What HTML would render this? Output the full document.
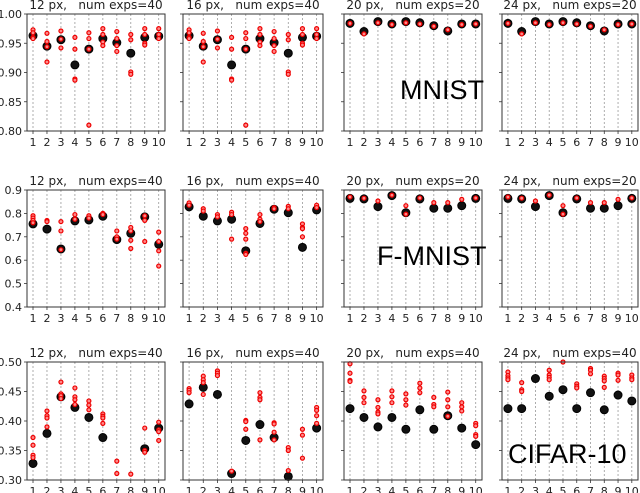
<!DOCTYPE html>
<html><head><meta charset="utf-8">
<style>
html,body{margin:0;padding:0;background:#fff;}
svg{display:block;font-family:"DejaVu Sans","Liberation Sans",sans-serif;}
</style></head>
<body>
<svg id="chart" width="640" height="493" viewBox="0 0 640 493" xmlns="http://www.w3.org/2000/svg"></svg>
<script>
const categories=[1,2,3,4,5,6,7,8,9,10];
const rowTicks=[[0.80,0.85,0.90,0.95,1.00],[0.4,0.5,0.6,0.7,0.8,0.9],[0.30,0.35,0.40,0.45,0.50]];
const rowTickLabels=[["0.80","0.85","0.90","0.95","1.00"],["0.4","0.5","0.6","0.7","0.8","0.9"],["0.30","0.35","0.40","0.45","0.50"]];
const rowRanges=[[0.80,1.00],[0.4,0.9],[0.30,0.50]];
const titles=[["12 px,\u00a0\u00a0 num exps=40","16 px,\u00a0\u00a0 num exps=40","20 px,\u00a0\u00a0 num exps=20","24 px,\u00a0\u00a0 num exps=20"],
["12 px,\u00a0\u00a0 num exps=40","16 px,\u00a0\u00a0 num exps=40","20 px,\u00a0\u00a0 num exps=20","24 px,\u00a0\u00a0 num exps=20"],
["12 px,\u00a0\u00a0 num exps=40","16 px,\u00a0\u00a0 num exps=40","20 px,\u00a0\u00a0 num exps=40","24 px,\u00a0\u00a0 num exps=40"]];
const datasetNames=["MNIST","F-MNIST","CIFAR-10"];

const mnistBlackA=[0.963,0.945,0.956,0.913,0.940,0.958,0.951,0.933,0.960,0.962];
const mnistRedA=[[0.973,0.968,0.960,0.958],[0.967,0.953,0.944,0.918],[0.971,0.957,0.942],[0.960,0.940,0.889,0.887],[0.968,0.958,0.940,0.810],[0.975,0.965,0.952,0.946],[0.970,0.958,0.946,0.936],[0.965,0.956,0.901,0.897],[0.975,0.965,0.950,0.947],[0.975,0.965,0.958]];
const mnistBlackB=[0.984,0.970,0.987,0.983,0.987,0.985,0.980,0.971,0.983,0.983];
const mnistRedB=[[0.984],[0.966],[0.985],[0.982],[0.985],[0.983],[0.979],[0.973],[0.982],[0.983]];

const fmBlack12=[0.755,0.733,0.648,0.768,0.772,0.788,0.688,0.715,0.785,0.668];
const fmRed12=[[0.79,0.78,0.77,0.76],[0.77,0.765],[0.765,0.725,0.645],[0.795,0.775],[0.79,0.78],[0.80,0.795],[0.725,0.70,0.69],[0.74,0.725,0.685,0.65],[0.79,0.77,0.68],[0.72,0.68,0.64,0.575]];
const fmBlack16=[0.828,0.788,0.768,0.775,0.640,0.757,0.818,0.803,0.655,0.815];
const fmRed16=[[0.845,0.835],[0.82,0.81],[0.795,0.785],[0.805,0.795,0.69],[0.735,0.715,0.69,0.63,0.625],[0.795,0.775,0.765],[0.825,0.82],[0.83,0.82],[0.755,0.74,0.735,0.70],[0.835,0.825]];
const fmBlackB=[0.864,0.862,0.829,0.876,0.803,0.862,0.822,0.822,0.833,0.864];
const fmRedB=[[0.87],[0.865],[0.853],[0.878],[0.833,0.797],[0.866],[0.846],[0.846],[0.86],[0.866]];

const cfBlack12=[0.328,0.379,0.441,0.423,0.406,0.372,null,null,0.353,0.388];
const cfRed12=[[0.372,0.359,0.342,0.338],[0.417,0.409,0.405,0.390],[0.466,0.446,0.443,0.438],[0.456,0.441,0.436,0.428],[0.434,0.427,0.419],[0.412,0.408,0.405,0.396],[0.332,0.311],[0.310],[0.388,0.350,0.347],[0.398,0.385,0.382,0.367]];
const cfBlack16=[0.429,0.457,0.445,0.311,0.367,0.394,0.372,0.306,null,0.388];
const cfRed16=[[0.455,0.452,0.448],[0.476,0.470,0.465,0.445],[0.485,0.481,0.477],[0.315],[0.401,0.399,0.386],[0.448,0.440,0.436,0.368],[0.397,0.395,0.381,0.368],[0.355,0.350,0.316],[0.386,0.376,0.337],[0.423,0.418,0.409,0.396]];
const cfBlack20=[0.421,0.406,0.390,0.406,0.386,0.419,0.386,0.409,0.388,0.360];
const cfRed20=[[0.497,0.481,0.469,0.467],[0.451,0.440,0.431],[0.436,0.423,0.415,0.412],[0.451,0.441,0.431],[0.446,0.436,0.427],[0.464,0.456,0.448],[0.440,0.428,0.424],[0.449,0.436,0.424,0.408],[0.431,0.424,0.417],[0.396,0.392,0.377,0.374]];
const cfBlack24=[0.421,0.421,0.472,0.442,0.453,0.421,0.448,0.419,0.444,0.434];
const cfRed24=[[0.483,0.477,0.473,0.470],[0.465,0.453,0.450],[],[0.486,0.478,0.474,0.470],[0.500],[0.463,0.459,0.456],[0.489,0.486,0.480],[0.476,0.472,0.468,0.457],[0.481,0.478,0.469],[0.478,0.473,0.470]];

const panelBlack=[[mnistBlackA,mnistBlackA,mnistBlackB,mnistBlackB],[fmBlack12,fmBlack16,fmBlackB,fmBlackB],[cfBlack12,cfBlack16,cfBlack20,cfBlack24]];
const panelRed=[[mnistRedA,mnistRedA,mnistRedB,mnistRedB],[fmRed12,fmRed16,fmRedB,fmRedB],[cfRed12,cfRed16,cfRed20,cfRed24]];

const NS="http://www.w3.org/2000/svg";
const svg=document.getElementById('chart');
const colX=[[27,165],[183,323],[344,482],[502,638]];
const rowY=[[14,131],[190,307],[362,480]];
const xMin=0.57,xMax=10.45;
function mk(tag,attrs,parent){const e=document.createElementNS(NS,tag);for(const k in attrs)e.setAttribute(k,attrs[k]);(parent||svg).appendChild(e);return e;}
const rowNames=['mnist','fmnist','cifar'];
const pxNames=['12px','16px','20px','24px'];
for(let r=0;r<3;r++){for(let c=0;c<4;c++){
  const [x0,x1]=colX[c],[y0,y1]=rowY[r];
  const xs=v=>x0+(v-xMin)/(xMax-xMin)*(x1-x0);
  const ys=v=>y1-(v-rowRanges[r][0])/(rowRanges[r][1]-rowRanges[r][0])*(y1-y0);
  const g=mk('g',{});
  
  
  categories.forEach(k=>{const l=mk('line',{x1:xs(k),x2:xs(k),y1:y0,y2:y1,stroke:'#999','stroke-width':0.8,'stroke-dasharray':'2,2'},g);
    
    const t=mk('text',{x:xs(k),y:y1+15,'text-anchor':'middle','font-size':11,fill:'#222'},g);t.textContent=k;
    
    mk('line',{x1:xs(k),x2:xs(k),y1:y1,y2:y1+3,stroke:'#333','stroke-width':0.8},g);
  });
  rowTicks[r].forEach((tv,i)=>{mk('line',{x1:x0-3,x2:x0,y1:ys(tv),y2:ys(tv),stroke:'#333','stroke-width':0.8},g);
    if(c===0){const t=mk('text',{x:x0-5,y:ys(tv)+4,'text-anchor':'end','font-size':11,fill:'#222'},g);t.textContent=rowTickLabels[r][i];
    }});
  panelBlack[r][c].forEach((v,i)=>{if(v===null)return;const p=mk('circle',{cx:xs(categories[i]),cy:ys(v),r:4,fill:'#111',stroke:'#000','stroke-width':1},g);
    });
  const reds=panelRed[r][c];
  reds.forEach((arr,i)=>arr.forEach(v=>{const p=mk('circle',{cx:xs(categories[i]),cy:ys(v),r:2,fill:'#f88',stroke:'#e00','stroke-width':1.2},g);
    }));
  mk('rect',{x:x0,y:y0,width:x1-x0,height:y1-y0,fill:'none',stroke:'#333','stroke-width':1},g);
  const tt=mk('text',{x:(x0+x1)/2,y:y0-5,'text-anchor':'middle','font-size':12,fill:'#222'},g);tt.textContent=titles[r][c];
  
}}
const lbls=[[400,99,'MNIST'],[377,265,'F-MNIST'],[508,463,'CIFAR-10']];
lbls.forEach((l,i)=>{const t=mk('text',{x:l[0],y:l[1],'font-size':27,fill:'#000','font-family':'"Liberation Sans",sans-serif'});t.textContent=datasetNames[i];
  });
</script>
</body></html>
